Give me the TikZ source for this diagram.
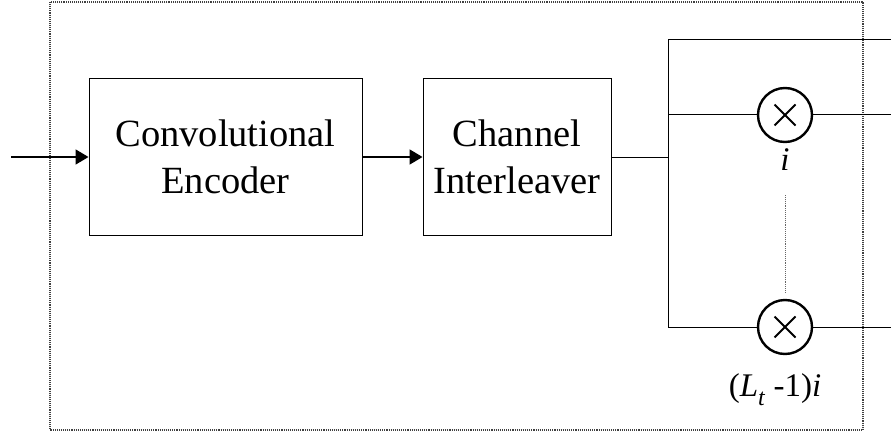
\documentclass[tikz,border=0pt]{standalone}
\usepackage{fontspec}
\setmainfont{Liberation Serif}
\usetikzlibrary{arrows.meta}
\begin{document}
\begin{tikzpicture}[x=1pt,y=-1pt,
  block/.style={draw,line width=1pt,minimum width=#1,minimum height=156pt,
    align=center,inner sep=0pt,font=\fontsize{38.5}{47}\selectfont},
  mixer/.style={draw,circle,line width=2.4pt,minimum size=54pt,inner sep=0pt},
  wire/.style={line width=1pt},
  flow/.style={line width=1.8pt,-{Triangle[length=13pt,width=15pt]}},
  lbl/.style={font=\fontsize{33}{36}\selectfont\itshape,anchor=base,inner sep=0pt}]
\useasboundingbox (0,0) rectangle (891,433);
% frame around the transmitter
\draw[gray!50!black,line width=1.1pt,densely dotted] (50,2) rectangle (863,430);
% processing blocks
\node[block=273pt] (enc) at (225.5,157) {Convolutional\\Encoder};
\node[block=188pt] (ilv) at (517,157) {Channel\\Interleaver};
% multipliers
\node[mixer] (m1) at (785,115) {};
\node[mixer] (m2) at (785,327) {};
\foreach \m in {m1,m2}{
  \draw[line width=2pt] (\m.center) ++(-10.5,-10.5) -- ++(21,21);
  \draw[line width=2pt] (\m.center) ++(-10.5,10.5) -- ++(21,-21);
}
\node[lbl] (li) at (785,170) {i};
\node[lbl,font=\fontsize{33}{36}\selectfont] (ll) at (775,396)
  {(\textit{L}\raisebox{-9pt}{\fontsize{24}{26}\selectfont\textit{t}} -1)\textit{i}};
% branch points and outputs
\coordinate (in) at (11,157);
\coordinate (split) at (668,157);
\coordinate (top) at (668,40);
\coordinate (bot) at (668,327);
\coordinate (o0) at (891,40);
\coordinate (o1) at (891,115);
\coordinate (o2) at (891,327);
\draw[flow] (in) -- (enc.west |- in);
\draw[flow] (enc.east |- split) -- (ilv.west |- split);
\draw[wire] (ilv.east |- split) -- (split);
\draw[wire] (top) -- (bot);
\draw[wire] (top) -- (o0);
\draw[wire] (top |- m1) -- (m1.west);
\draw[wire] (m1.east) -- (o1);
\draw[wire] (bot) -- (m2.west);
\draw[wire] (m2.east) -- (o2);
\draw[line width=0.9pt,densely dotted,gray!80!black] (785,195) -- (785,292);
\end{tikzpicture}
\end{document}
